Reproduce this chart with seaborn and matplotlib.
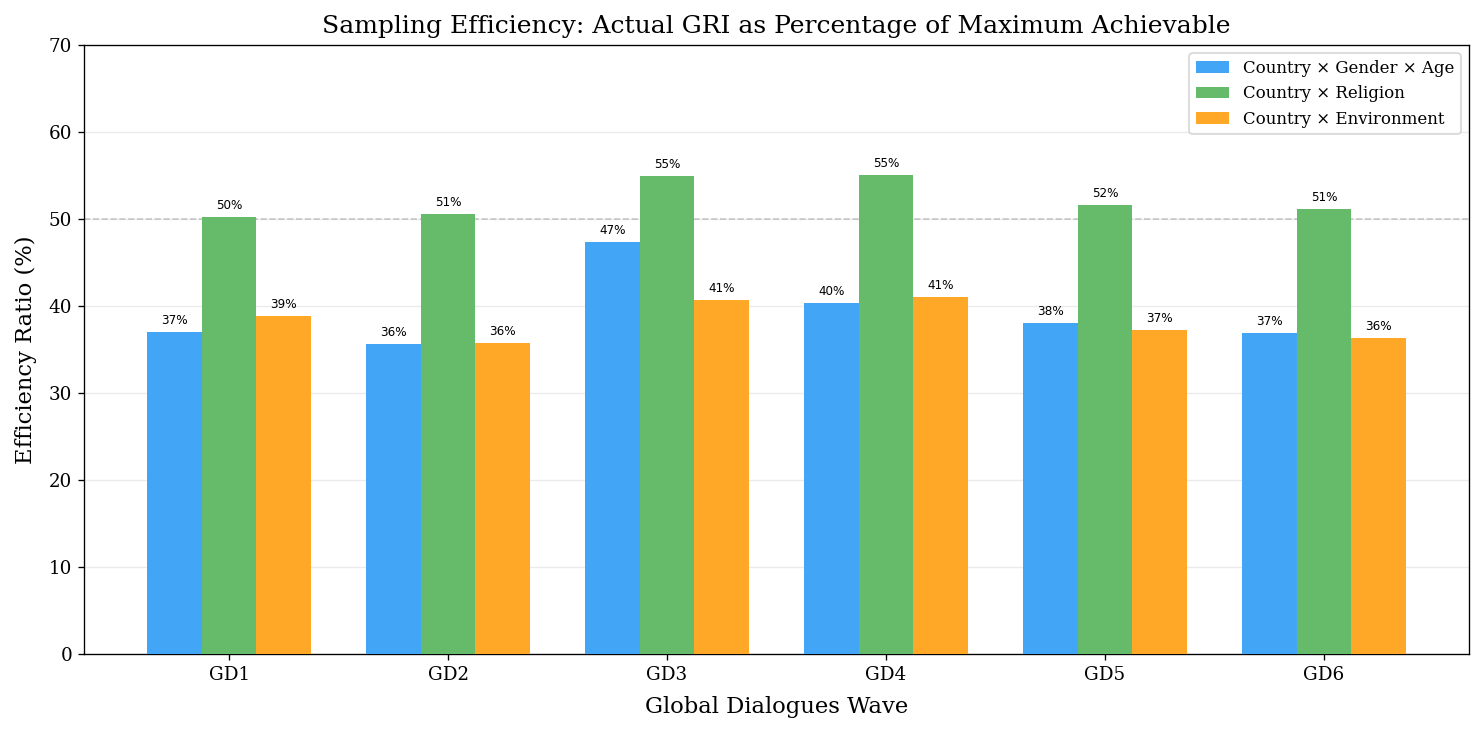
import numpy as np
import pandas as pd
import matplotlib
matplotlib.use("Agg")
import matplotlib.pyplot as plt
import seaborn as sns

# dados
waves = ["GD1", "GD2", "GD3", "GD4", "GD5", "GD6"]
groups = ["Country × Gender × Age", "Country × Religion", "Country × Environment"]
gender_age = [37.0, 35.6, 47.3, 40.3, 38.0, 36.9]
religion = [50.2, 50.6, 54.9, 55.1, 51.6, 51.2]
environment = [38.9, 35.7, 40.7, 41.0, 37.2, 36.3]
colors = ["#42A5F5", "#66BB6A", "#FFA726"]

df = pd.DataFrame({
    "wave": waves * 3,
    "group": [groups[0]] * 6 + [groups[1]] * 6 + [groups[2]] * 6,
    "ratio": gender_age + religion + environment,
})

plt.rcParams["font.family"] = ["DejaVu Serif"]

fig = plt.figure(figsize=(1484 / 120, 732 / 120), dpi=120)
ax = fig.add_axes([0.0566, 0.1066, 0.9333, 0.8319])

sns.barplot(data=df, x="wave", y="ratio", hue="group", order=waves, hue_order=groups,
            palette=colors, saturation=1, width=0.75, gap=0, errorbar=None, ax=ax, zorder=3)

for c in ax.containers:
    ax.bar_label(c, fmt="%.0f%%", padding=3, fontsize=7.2, family="DejaVu Sans")

ax.axhline(50, color="gray", linestyle="--", linewidth=1, alpha=0.4, zorder=1)
ax.grid(True, axis="y", alpha=0.25, zorder=0)
ax.set_axisbelow(True)
ax.set_ylim(0, 70)
ax.set_xlim(-0.6625, 5.6625)
ax.set_title("Sampling Efficiency: Actual GRI as Percentage of Maximum Achievable", fontsize=15, pad=7)
ax.set_xlabel("Global Dialogues Wave", fontsize=13.6, labelpad=7.5)
ax.set_ylabel("Efficiency Ratio (%)", fontsize=13.6, labelpad=7)
ax.tick_params(labelsize=11)
ax.legend(loc="upper right", fontsize=10)

fig.savefig("out.png", dpi=120)
